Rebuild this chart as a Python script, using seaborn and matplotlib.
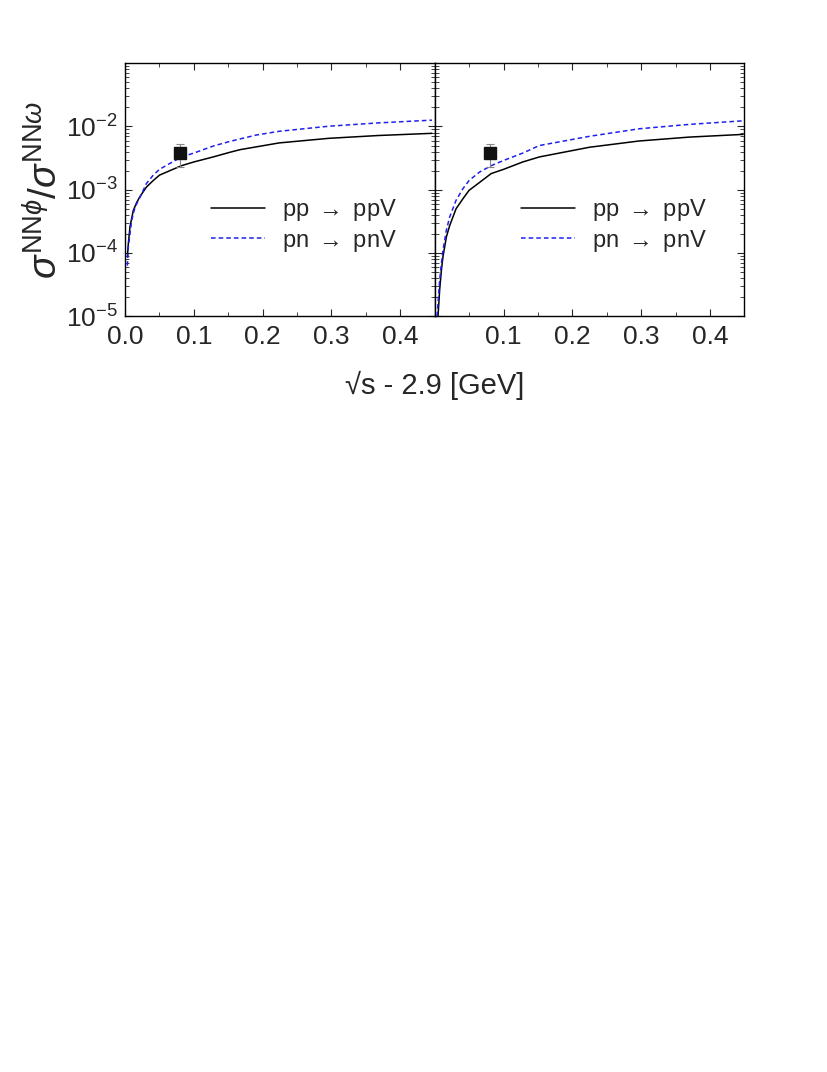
import matplotlib
matplotlib.use("Agg")
import matplotlib.pyplot as plt
import seaborn as sns
import pandas as pd
from matplotlib.ticker import MultipleLocator, LogLocator, NullFormatter

sns.set_theme(style="ticks")
plt.rcParams['font.family'] = ['Liberation Sans', 'DejaVu Sans']
plt.rcParams['mathtext.fontset'] = 'custom'
plt.rcParams['mathtext.rm'] = 'Liberation Sans'
plt.rcParams['mathtext.it'] = 'Liberation Sans:italic'

# curves (x = sqrt(s) - 2.9 GeV)
# left panel
X_PP_L = [0.0034, 0.0048, 0.0072, 0.012, 0.017, 0.0217, 0.031, 0.041, 0.05, 0.065,
          0.082, 0.1, 0.128, 0.152, 0.167, 0.224, 0.296, 0.368, 0.446]
PP_L = [8.7e-5, 1.4e-4, 2.6e-4, 4.7e-4, 6.3e-4, 7.8e-4, 1.1e-3, 1.4e-3, 1.7e-3, 2.0e-3,
        2.4e-3, 2.75e-3, 3.3e-3, 3.9e-3, 4.3e-3, 5.5e-3, 6.5e-3, 7.2e-3, 7.8e-3]
X_PN_L = [0.0034, 0.0048, 0.0097, 0.0145, 0.0217, 0.031, 0.041, 0.05, 0.065, 0.082,
          0.1, 0.128, 0.152, 0.19, 0.224, 0.296, 0.368, 0.446]
PN_L = [6.3e-5, 1.25e-4, 3.3e-4, 5.3e-4, 7.6e-4, 1.25e-3, 1.7e-3, 2.1e-3, 2.6e-3, 3.3e-3,
        3.8e-3, 4.9e-3, 5.8e-3, 7.3e-3, 8.4e-3, 1.01e-2, 1.14e-2, 1.26e-2]

# right panel
X_PP_R = [0.0048, 0.0072, 0.0097, 0.012, 0.017, 0.0217, 0.031, 0.041, 0.05, 0.065,
          0.082, 0.1, 0.128, 0.152, 0.225, 0.297, 0.37, 0.448]
PP_R = [1.0e-5, 2.6e-5, 5.3e-5, 8.7e-5, 1.8e-4, 2.7e-4, 5.0e-4, 7.2e-4, 9.8e-4, 1.3e-3,
        1.8e-3, 2.1e-3, 2.75e-3, 3.3e-3, 4.7e-3, 5.9e-3, 6.8e-3, 7.5e-3]
X_PN_R = [0.0034, 0.0072, 0.0097, 0.012, 0.017, 0.0217, 0.031, 0.041, 0.05, 0.065,
          0.082, 0.1, 0.128, 0.152, 0.225, 0.297, 0.37, 0.448]
PN_R = [1.0e-5, 3.7e-5, 6.8e-5, 1.1e-4, 2.3e-4, 3.7e-4, 6.8e-4, 1.04e-3, 1.4e-3, 1.9e-3,
        2.4e-3, 2.9e-3, 3.8e-3, 5.0e-3, 7.0e-3, 9.2e-3, 1.08e-2, 1.23e-2]

# experimental point
EXP_X = [0.08]
EXP_Y = [3.8e-3]
EXP_LO = [2.3e-3]
EXP_HI = [5.3e-3]

LABELS = [r"pp $\rightarrow$ ppV", r"pn $\rightarrow$ pnV"]


def make_df(x_pp, pp, x_pn, pn):
  a = pd.DataFrame({"x": x_pp, "y": pp, "proc": LABELS[0]})
  b = pd.DataFrame({"x": x_pn, "y": pn, "proc": LABELS[1]})
  return pd.concat([a, b], ignore_index=True)


fig = plt.figure(figsize=(8.28, 10.72), dpi=100)
ax1 = fig.add_axes([0.151, 0.705, 0.374, 0.236])
ax2 = fig.add_axes([0.525, 0.705, 0.374, 0.236], sharey=ax1)

panels = [(ax1, make_df(X_PP_L, PP_L, X_PN_L, PN_L)),
          (ax2, make_df(X_PP_R, PP_R, X_PN_R, PN_R))]

for ax, df in panels:
  sns.lineplot(data=df, x="x", y="y", hue="proc", style="proc",
               palette=["black", "#2020ee"], dashes=[(None, None), (3, 2)],
               linewidth=1.1, ax=ax)
  yerr = [[EXP_Y[0] - EXP_LO[0]], [EXP_HI[0] - EXP_Y[0]]]
  ax.errorbar(EXP_X, EXP_Y, yerr=yerr, fmt="s", color="#111111", ms=8,
              ecolor="#888888", elinewidth=0.8, capsize=3, capthick=0.8, zorder=5)
  ax.set_yscale("log")
  ax.set_xlim(0, 0.45)
  ax.set_ylim(1e-5, 1e-1)
  ax.xaxis.set_major_locator(MultipleLocator(0.1))
  ax.xaxis.set_minor_locator(MultipleLocator(0.05))
  ax.yaxis.set_major_locator(LogLocator(base=10, numticks=10))
  ax.yaxis.set_minor_locator(LogLocator(base=10, subs=range(2, 10), numticks=20))
  ax.yaxis.set_minor_formatter(NullFormatter())
  ax.tick_params(which="both", direction="in", top=True, right=True)
  ax.tick_params(which="major", length=5, width=0.8, labelsize=19)
  ax.tick_params(axis="x", which="major", pad=6)
  ax.tick_params(axis="y", which="major", pad=5)
  ax.tick_params(which="minor", length=3, width=0.6)
  for s in ax.spines.values():
    s.set_linewidth(1.0)
    s.set_color("black")
  ax.set_xlabel("")
  ax.set_ylabel("")
  h, l = ax.get_legend_handles_labels()
  ax.legend(h, l, loc="center left", bbox_to_anchor=(0.24, 0.36), frameon=False,
            fontsize=17, handlelength=2.3, borderpad=0, labelspacing=0.2, handletextpad=0.7)

ax1.set_yticks([1e-5, 1e-4, 1e-3, 1e-2])
ax1.set_ylim(1e-5, 1e-1)
ax1.set_ylabel(r"$\sigma^{\mathrm{NN}\phi}/\sigma^{\mathrm{NN}\omega}$", fontsize=28, labelpad=0)
ax2.tick_params(labelleft=False)
ax2.set_xticks([0.1, 0.2, 0.3, 0.4])

fig.text(0.525, 0.64, "\u221as - 2.9 [GeV]", ha="center", va="center", fontsize=21)

fig.savefig("out.png", dpi=100)
